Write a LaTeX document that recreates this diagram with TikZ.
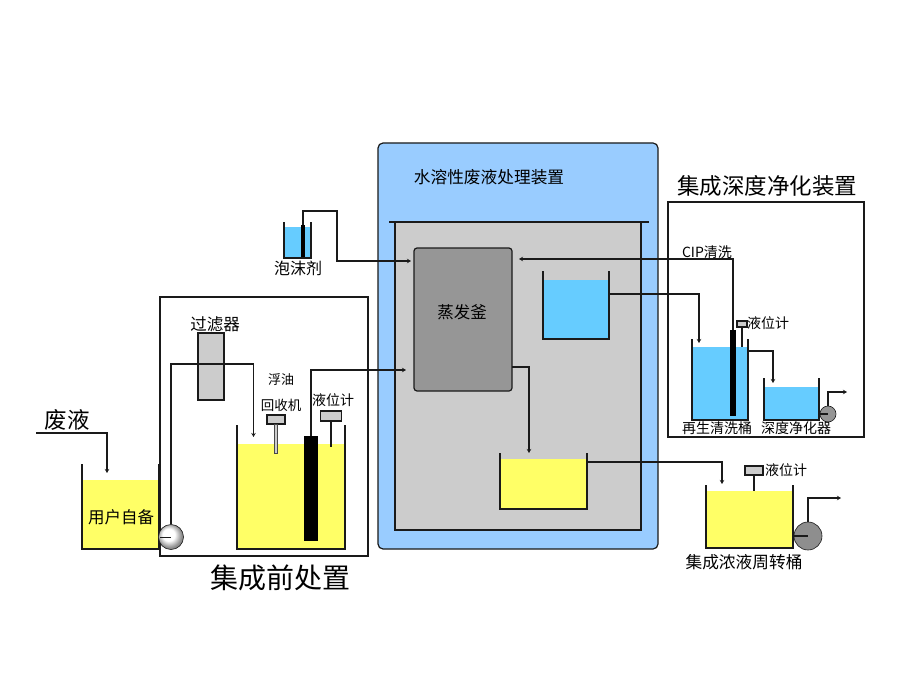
\documentclass[tikz,border=0pt]{standalone}
\usepackage{fontspec}
\setmainfont{Noto Sans CJK SC}
\usetikzlibrary{arrows.meta}
\definecolor{tankyellow}{HTML}{FFFF66}
\definecolor{tankblue}{HTML}{66CCFF}
\definecolor{shellblue}{HTML}{99CCFF}
\definecolor{innergray}{HTML}{CCCCCC}
\definecolor{vesselgray}{HTML}{969696}
\definecolor{inkline}{HTML}{1A1A1A}
\pgfdeclareradialshading{pumpshade}{\pgfpoint{-6bp}{6bp}}{color(0bp)=(white); color(12bp)=(white); color(24bp)=(black!45); color(50bp)=(black!60)}
\newcommand{\lbl}[4]{\node[font=\fontsize{#1}{#1}\selectfont, text=black, inner sep=0pt] (#2) at (#3) {#4};}
% name, x1, x2, rim top, liquid top, bottom, colour
\newcommand{\vessel}[7]{%
  \fill[#7] (#2,#5) rectangle (#3,#6);
  \coordinate (#1) at ({(#2+#3)/2},#6);
  \coordinate (#1-l) at (#2,#4);
  \coordinate (#1-r) at (#3,#4);
  \draw[wall] (#2,#4) -- (#2,#6) -- (#3,#6) -- (#3,#4);
}
\tikzset{
  wall/.style={line width=1.2pt, draw=inkline},
  frame/.style={line width=1.3pt, draw=inkline},
  pipe/.style={line width=1.1pt, draw=inkline},
  flow/.style={pipe, -{Stealth[length=4pt,width=4.5pt]}},
  gaugebox/.style={draw=inkline, line width=1.2pt, fill=innergray, inner sep=0pt},
  barnode/.style={fill=black, inner sep=0pt},
  pumpball/.style={circle, draw=inkline, line width=0.6pt, inner sep=0pt},
}
\begin{document}
\begin{tikzpicture}[x=1pt,y=-1pt]
\useasboundingbox (0,0) rectangle (900,674);
\fill[white] (0,0) rectangle (900,674);

% central unit
\node[draw=inkline, line width=1.2pt, fill=shellblue, rounded corners=5pt, minimum width=280pt, minimum height=406pt, inner sep=0pt] (shell) at (518,346) {};
\node[fill=innergray, minimum width=246pt, minimum height=308pt, inner sep=0pt] (inner) at (518,376) {};
\draw[frame] (395,222) -- (395,530) -- (641,530) -- (641,222);
\draw[frame] (389,222) -- (649,222);
\node[draw=inkline, line width=1.2pt, fill=vesselgray, rounded corners=3pt, minimum width=98pt, minimum height=143pt, inner sep=0pt] (evap) at (463,319.5) {};
\vessel{bluetank}{543}{609}{271}{280}{339}{tankblue}
\vessel{yelltank}{500}{587}{453}{459}{509}{tankyellow}
\lbl{16.7}{titlemid}{489,177}{水溶性废液处理装置}
\lbl{16.5}{evaplbl}{462,312}{蒸发釜}

% foam tank
\vessel{foam}{284}{311}{222}{227}{258}{tankblue}
\node[barnode, minimum width=3.5pt, minimum height=32pt] (foambar) at (303,241) {};
\lbl{16}{foamlbl}{298,268}{泡沫剂}
\coordinate (foamin) at (411,261);
\draw[flow] (foambar.north) |- (337,211) |- (foamin);

% pre-treatment
\node[draw=inkline, line width=1.3pt, minimum width=208pt, minimum height=259pt, inner sep=0pt] (prebox) at (264,426.5) {};
\vessel{usertank}{82}{159}{464}{480}{549}{tankyellow}
\vessel{oiltank}{237}{345}{425}{444}{549}{tankyellow}
\node[draw=inkline, line width=1.2pt, fill=innergray, minimum width=26pt, minimum height=67pt, inner sep=0pt] (filter) at (211,366.5) {};
\node[pumpball, minimum size=25pt, shading=pumpshade] (pump1) at (171,537) {};
\draw[line width=0.8pt, draw=inkline] (160,537) -- (pump1.center);
\coordinate (in1) at (253.5,437);
\draw[flow] (pump1.north) |- (253.5,364) -- (in1);
\node[barnode, minimum width=14pt, minimum height=105pt] (bar1) at (311,488.5) {};
\coordinate (evapin) at (406,370);
\draw[flow] (bar1.north) |- (evapin);
\node[gaugebox, minimum width=18pt, minimum height=9pt] (oilbox) at (276,419.5) {};
\node[draw=inkline!80, line width=0.8pt, fill=innergray, minimum width=3pt, minimum height=29pt, inner sep=0pt] (oilstem) at (276,438.5) {};
\node[gaugebox, minimum width=21pt, minimum height=10pt] (gauge1) at (331,416) {};
\coordinate (g1end) at (331,447);
\draw[pipe] (gauge1.south) -- (g1end);
\coordinate (wastestart) at (36,433);
\coordinate (wasteend) at (107,473);
\draw[flow] (wastestart) -| (wasteend);
\lbl{22.5}{wastelbl}{67,420}{废液}
\lbl{16.5}{userlbl}{121,517}{用户自备}
\lbl{16.5}{filterlbl}{215,324}{过滤器}
\lbl{13}{oil1}{281,380}{浮油}
\lbl{13.5}{oil2}{281,405}{回收机}
\lbl{14}{level1}{333,400}{液位计}
\lbl{28}{pretitle}{280,578}{集成前处置}

% deep purification
\node[draw=inkline, line width=1.3pt, minimum width=196pt, minimum height=235pt, inner sep=0pt] (deepbox) at (766,319.5) {};
\vessel{cleantank}{692}{748}{339}{347}{420}{tankblue}
\vessel{puretank}{764}{819}{378}{387}{420}{tankblue}
\node[barnode, minimum width=6pt, minimum height=86pt] (bar2) at (733,373) {};
\coordinate (cipend) at (519,259);
\draw[flow] (bar2.north) |- (cipend);
\coordinate (blueout) at (609,294);
\coordinate (cleanin) at (699,343);
\draw[flow] (blueout) -| (cleanin);
\node[gaugebox, minimum width=10pt, minimum height=6pt] (gauge2) at (742,324) {};
\coordinate (g2end) at (742,347);
\draw[pipe] (gauge2.south) -- (g2end);
\coordinate (pureout) at (748,351);
\coordinate (purein) at (773,383);
\draw[flow] (pureout) -| (purein);
\node[pumpball, minimum size=16pt, fill=vesselgray] (pump2) at (828,414) {};
\draw[pipe] (819,414) -- (pump2.center);
\coordinate (out2) at (847,392);
\draw[flow] (pump2.north) |- (out2);
\lbl{22.5}{deeptitle}{767,186}{集成深度净化装置}
\lbl{14}{ciplbl}{707,252}{CIP清洗}
\lbl{14}{level2}{768,323}{液位计}
\lbl{14}{cleanlbl}{717,428}{再生清洗桶}
\lbl{14}{purelbl}{796,428}{深度净化器}

% concentrate tank
\vessel{conctank}{706}{793}{485}{491}{548}{tankyellow}
\coordinate (evapout) at (512,367);
\coordinate (yellin) at (529,453);
\draw[flow] (evapout) -| (yellin);
\coordinate (yellout) at (587,462);
\coordinate (concin) at (722,484);
\draw[flow] (yellout) -| (concin);
\node[gaugebox, minimum width=18pt, minimum height=9pt] (gauge3) at (754,470.5) {};
\coordinate (g3end) at (754,491);
\draw[pipe] (gauge3.south) -- (g3end);
\node[pumpball, minimum size=28pt, fill=vesselgray!95!black] (pump3) at (808,536) {};
\draw[pipe] (794,536) -- (pump3.center);
\coordinate (out3) at (841,498);
\draw[flow] (pump3.north) |- (out3);
\lbl{14}{level3}{786,470}{液位计}
\lbl{16.7}{conclbl}{744,562}{集成浓液周转桶}
\end{tikzpicture}
\end{document}
